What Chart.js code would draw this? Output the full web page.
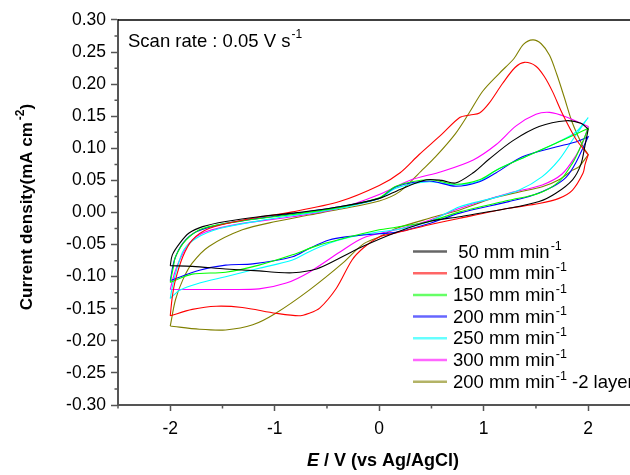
<!DOCTYPE html>
<html>
<head>
<meta charset="utf-8">
<script src="https://cdn.jsdelivr.net/npm/chart.js@4.4.1/dist/chart.umd.min.js"></script>
<style>
  html, body { margin: 0; padding: 0; background: #fff; }
</style>
</head>
<body>
<canvas id="cv" width="630" height="475"></canvas>
<script>
/************/
/*** DATA ***/
/************/

// Each loop: forward sweep -2 -> 2 V, then reverse sweep 2 -> -2 V  [E (V), j (mA cm-2)]
const loop50 = [
  [-2,-0.083],[-1.98,-0.066],[-1.91,-0.048],[-1.82,-0.032],[-1.69,-0.022],[-1.47,-0.014],[-1.15,-0.0065],
  [-0.83,-0.001],[-0.38,0.009],[0,0.022],[0.2,0.036],[0.45,0.051],[0.6,0.05],[0.73,0.046],[0.9,0.062],
  [1.05,0.083],[1.28,0.112],[1.53,0.134],[1.79,0.143],[1.93,0.139],[2,0.13],
  [2,0.13],[1.97,0.105],[1.93,0.075],[1.85,0.051],[1.69,0.03],[1.53,0.017],[1.24,0.0065],[0.77,-0.0065],
  [0.48,-0.014],[0.16,-0.031],[-0.16,-0.053],[-0.4,-0.073],[-0.6,-0.088],[-0.83,-0.094],[-1.0,-0.093],
  [-1.15,-0.091],[-1.47,-0.088],[-1.79,-0.084],[-2,-0.083]
];
const loop100 = [
  [-2,-0.161],[-1.98,-0.131],[-1.95,-0.105],[-1.88,-0.069],[-1.79,-0.043],[-1.63,-0.025],[-1.31,-0.012],
  [-0.83,0.001],[-0.38,0.017],[0,0.042],[0.2,0.062],[0.38,0.09],[0.6,0.122],[0.77,0.148],[0.87,0.152],
  [0.96,0.155],[1.05,0.17],[1.18,0.201],[1.3,0.226],[1.39,0.234],[1.5,0.228],[1.58,0.212],[1.66,0.188],
  [1.75,0.155],[1.88,0.115],[2,0.09],
  [2,0.09],[1.97,0.075],[1.95,0.061],[1.85,0.035],[1.72,0.022],[1.53,0.014],[1.24,0.0065],[0.77,-0.009],
  [0.48,-0.019],[0.16,-0.032],[0,-0.038],[-0.15,-0.055],[-0.26,-0.074],[-0.41,-0.118],[-0.57,-0.149],
  [-0.67,-0.157],[-0.77,-0.161],[-0.99,-0.157],[-1.31,-0.148],[-1.56,-0.146],[-1.79,-0.151],[-2,-0.161]
];
const loop150 = [
  [-2,-0.109],[-1.97,-0.085],[-1.95,-0.069],[-1.85,-0.043],[-1.69,-0.025],[-1.31,-0.013],[-0.83,-0.003],
  [-0.38,0.008],[0,0.023],[0.16,0.041],[0.48,0.051],[0.73,0.044],[0.96,0.051],[1.12,0.066],[1.4,0.087],
  [1.69,0.108],[1.88,0.122],[2,0.131],
  [2,0.131],[1.92,0.1],[1.85,0.077],[1.72,0.048],[1.53,0.03],[1.24,0.019],[0.77,0.001],[0.48,-0.014],
  [0.16,-0.023],[0,-0.027],[-0.38,-0.042],[-0.6,-0.052],[-0.83,-0.066],[-1.15,-0.082],[-1.47,-0.093],
  [-1.79,-0.096],[-2,-0.109]
];
const loop200 = [
  [-2,-0.106],[-1.96,-0.074],[-1.88,-0.048],[-1.75,-0.03],[-1.47,-0.017],[-0.99,-0.0055],[-0.38,0.009],
  [0,0.022],[0.16,0.04],[0.48,0.049],[0.73,0.041],[0.96,0.048],[1.12,0.062],[1.37,0.087],[1.69,0.102],
  [1.88,0.11],[2,0.118],
  [2,0.118],[1.88,0.077],[1.79,0.055],[1.66,0.04],[1.47,0.027],[1.24,0.017],[0.77,-0.001],[0.48,-0.017],
  [0.16,-0.031],[0,-0.033],[-0.32,-0.038],[-0.48,-0.043],[-0.67,-0.056],[-0.83,-0.069],[-1.21,-0.08],
  [-1.47,-0.082],[-1.72,-0.09],[-2,-0.106]
];
const loop250 = [
  [-2,-0.134],[-1.98,-0.116],[-1.93,-0.084],[-1.87,-0.058],[-1.75,-0.04],[-1.53,-0.025],[-1.15,-0.013],
  [-0.67,-0.001],[-0.38,0.0065],[0,0.022],[0.16,0.038],[0.48,0.048],[0.73,0.043],[0.96,0.049],[1.12,0.066],
  [1.4,0.087],[1.69,0.108],[1.88,0.125],[2,0.148],
  [2,0.148],[1.85,0.113],[1.72,0.082],[1.56,0.056],[1.34,0.035],[1.08,0.022],[0.77,0.009],[0.48,-0.014],
  [0.16,-0.027],[0,-0.03],[-0.32,-0.04],[-0.48,-0.048],[-0.67,-0.061],[-0.83,-0.074],[-1.15,-0.087],
  [-1.47,-0.1],[-1.72,-0.11],[-1.91,-0.121],[-2,-0.134]
];
const loop300 = [
  [-2,-0.12],[-1.96,-0.095],[-1.91,-0.074],[-1.82,-0.048],[-1.66,-0.03],[-1.31,-0.017],[-0.83,-0.0065],
  [-0.38,0.0065],[0,0.028],[0.29,0.05],[0.6,0.064],[0.9,0.082],[1.12,0.106],[1.31,0.135],[1.5,0.153],
  [1.63,0.156],[1.79,0.149],[2,0.134],
  [2,0.134],[1.95,0.11],[1.88,0.088],[1.75,0.06],[1.56,0.043],[1.24,0.03],[0.77,0.0065],[0.48,-0.012],
  [0.16,-0.027],[-0.16,-0.04],[-0.38,-0.062],[-0.67,-0.093],[-0.89,-0.11],[-1.15,-0.119],[-1.47,-0.12],
  [-1.79,-0.12],[-2,-0.12]
];
const loop200x2 = [
  [-2,-0.177],[-1.95,-0.136],[-1.88,-0.105],[-1.79,-0.079],[-1.63,-0.053],[-1.31,-0.027],[-0.99,-0.014],
  [-0.67,-0.004],[-0.38,0.005],[0,0.018],[0.2,0.033],[0.41,0.066],[0.54,0.087],[0.73,0.123],
  [0.86,0.155],[0.99,0.189],[1.15,0.217],[1.29,0.24],[1.38,0.262],[1.47,0.269],[1.55,0.263],[1.63,0.245],
  [1.7,0.215],[1.77,0.18],[1.85,0.139],[1.95,0.103],[2,0.09],
  [2,0.09],[1.91,0.071],[1.85,0.066],[1.72,0.051],[1.56,0.04],[1.34,0.032],[1.08,0.022],[0.77,0.004],
  [0.48,-0.009],[0.16,-0.025],[0,-0.038],[-0.16,-0.05],[-0.35,-0.079],[-0.67,-0.121],[-0.99,-0.157],
  [-1.21,-0.175],[-1.47,-0.183],[-1.72,-0.182],[-2,-0.177]
];

const seriesLoops  = [loop50, loop100, loop150, loop200, loop250, loop300, loop200x2];
const seriesLabels = [' 50 mm min', '100 mm min', '150 mm min', '200 mm min', '250 mm min', '300 mm min', '200 mm min'];
const seriesColors = ['#000000', '#ff0000', '#00ff00', '#0000ff', '#00ffff', '#ff00ff', '#808000'];

const xMajor = [-2, -1, 0, 1, 2];
const xMinor = [-2.5, -1.5, -0.5, 0.5, 1.5];
const yMajor = [-6, -5, -4, -3, -2, -1, 0, 1, 2, 3, 4, 5, 6].map(k => k * 0.05);
const yMinor = [-5.5, -4.5, -3.5, -2.5, -1.5, -0.5, 0.5, 1.5, 2.5, 3.5, 4.5, 5.5].map(k => k * 0.05);

/***************/
/*** HELPERS ***/
/***************/

const FONT = "'Liberation Sans', Arial, sans-serif";
const AXIS = '#555555';

// draw text runs (with superscripts) starting at x
function richWidth(ctx, parts) {
  let w = 0;
  parts.forEach(p => { ctx.font = p.f; w += ctx.measureText(p.t).width + (p.gap || 0); });
  return w;
}
function drawRich(ctx, parts, x, y) {
  parts.forEach(p => {
    ctx.font = p.f;
    x += (p.gap || 0);
    ctx.fillText(p.t, x, y + (p.dy || 0));
    x += ctx.measureText(p.t).width;
  });
}

const decorations = {
  id: 'decorations',
  afterDraw(chart) {
    const {ctx, chartArea: a, scales: {x, y}} = chart;
    ctx.save();

    // top frame line
    ctx.strokeStyle = '#000';
    ctx.lineWidth = 1.5;
    ctx.beginPath();
    ctx.moveTo(a.left, a.top);
    ctx.lineTo(a.right, a.top);
    ctx.stroke();

    // minor ticks
    ctx.strokeStyle = AXIS;
    ctx.lineWidth = 1.5;
    ctx.beginPath();
    xMinor.forEach(v => { const px = x.getPixelForValue(v); ctx.moveTo(px, a.bottom); ctx.lineTo(px, a.bottom + 3.5); });
    yMinor.forEach(v => { const py = y.getPixelForValue(v); ctx.moveTo(a.left, py); ctx.lineTo(a.left - 3.5, py); });
    ctx.stroke();

    ctx.fillStyle = '#000';
    ctx.textBaseline = 'alphabetic';
    ctx.textAlign = 'left';

    // scan rate note
    drawRich(ctx, [
      {t: 'Scan rate : 0.05 V s', f: `18.5px ${FONT}`},
      {t: '-1', f: `12px ${FONT}`, dy: -9, gap: 1}
    ], a.left + 10, a.top + 27);

    // legend
    const rowH = 21.7;
    seriesLabels.forEach((lab, i) => {
      const cy = 251.5 + i * rowH;
      ctx.save();
      ctx.globalAlpha = 0.6;
      ctx.strokeStyle = seriesColors[i];
      ctx.lineWidth = 2.5;
      ctx.beginPath();
      ctx.moveTo(413, cy);
      ctx.lineTo(447, cy);
      ctx.stroke();
      ctx.restore();
      const parts = [
        {t: lab, f: `18.5px ${FONT}`},
        {t: '-1', f: `12.5px ${FONT}`, dy: -8, gap: 1}
      ];
      if (i === 6) parts.push({t: ' -2 layers', f: `18.5px ${FONT}`});
      drawRich(ctx, parts, 453, cy + 6);
    });

    // x axis title
    const xt = [
      {t: 'E', f: `italic bold 18px ${FONT}`},
      {t: ' / V (vs Ag/AgCl)', f: `bold 18px ${FONT}`}
    ];
    drawRich(ctx, xt, 383 - richWidth(ctx, xt) / 2, 466);

    // y axis title (rotated)
    const yt = [
      {t: 'Current density(mA cm', f: `bold 17px ${FONT}`},
      {t: '-2', f: `bold 12px ${FONT}`, dy: -8, gap: 2},
      {t: ')', f: `bold 17px ${FONT}`}
    ];
    ctx.translate(32, 207);
    ctx.rotate(-Math.PI / 2);
    drawRich(ctx, yt, -richWidth(ctx, yt) / 2, 0);

    ctx.restore();
  }
};

/************/
/*** INIT ***/
/************/

Chart.defaults.font.family = FONT;
Chart.defaults.color = '#000';

const datasets = seriesLoops.map((loop, i) => ({
  label: seriesLabels[i],
  data: loop.map(p => ({x: p[0], y: p[1]})),
  showLine: true,
  borderColor: seriesColors[i],
  borderWidth: 1.1,
  pointRadius: 0,
  tension: 0.3,
  fill: false
}));

new Chart(document.getElementById('cv'), {
  type: 'scatter',
  data: {datasets: datasets},
  options: {
    responsive: false,
    animation: false,
    layout: {padding: {top: 20, left: 0, right: 0, bottom: 0}},
    plugins: {legend: {display: false}, tooltip: {enabled: false}},
    scales: {
      x: {
        type: 'linear', min: -2.5, max: 2.4,
        afterBuildTicks: s => { s.ticks = xMajor.map(v => ({value: v})); },
        afterFit: s => { s.height = 70; },
        grid: {display: true, drawOnChartArea: false, drawTicks: true, tickLength: 6, tickColor: AXIS, tickWidth: 1.5},
        border: {display: true, color: AXIS, width: 2},
        ticks: {font: {size: 17.5}, color: '#000', padding: 8, maxRotation: 0, callback: v => String(v)}
      },
      y: {
        type: 'linear', min: -0.3, max: 0.3,
        afterBuildTicks: s => { s.ticks = yMajor.map(v => ({value: v})); },
        afterFit: s => { s.width = 118; },
        grid: {display: true, drawOnChartArea: false, drawTicks: true, tickLength: 7, tickColor: AXIS, tickWidth: 1.5},
        border: {display: true, color: AXIS, width: 2},
        ticks: {font: {size: 17.5}, color: '#000', padding: 5, callback: v => v.toFixed(2)}
      }
    }
  },
  plugins: [decorations]
});
</script>
</body>
</html>
